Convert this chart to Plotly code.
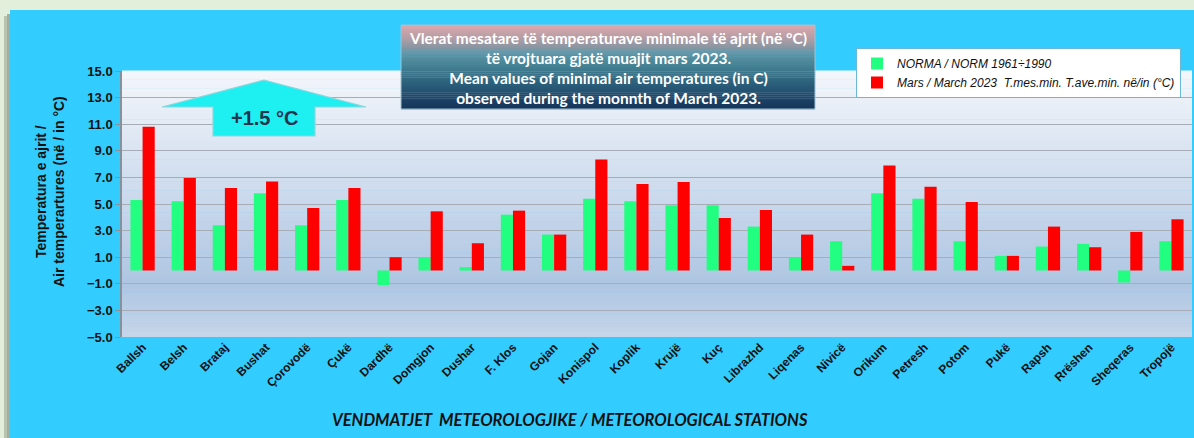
import plotly.graph_objects as go

stations = ["Ballsh", "Belsh", "Brataj", "Bushat", "Çorovodë", "Çukë", "Dardhë", "Domgjon",
            "Dushar", "F. Klos", "Gojan", "Konispol", "Koplik", "Krujë", "Kuç", "Librazhd",
            "Liqenas", "Nivicë", "Orikum", "Petresh", "Potom", "Pukë", "Rapsh", "Rrëshen",
            "Sheqeras", "Tropojë"]
norm_1961_1990 = [5.3, 5.2, 3.4, 5.8, 3.4, 5.3, -1.1, 1.0, 0.25, 4.2, 2.7, 5.4, 5.2, 4.9,
                  4.9, 3.3, 1.0, 2.2, 5.8, 5.4, 2.2, 1.1, 1.8, 2.0, -0.9, 2.2]
march_2023 = [10.8, 6.95, 6.2, 6.7, 4.7, 6.2, 1.0, 4.45, 2.05, 4.5, 2.7, 8.35, 6.5, 6.65,
              3.95, 4.55, 2.7, 0.35, 7.9, 6.3, 5.15, 1.1, 3.3, 1.75, 2.9, 3.85]
y_ticks = [-5, -3, -1, 1, 3, 5, 7, 9, 11, 13, 15]
anomaly_label = "+1.5 °C"

W, H = 1194, 438
L, R, T, B = 122, 1192, 71, 337


def px(x):
    return (x - L) / (R - L)


def py(y):
    return (B - y) / (B - T)


def hexmix(c1, c2, t):
    a = [int(c1[i:i + 2], 16) for i in (1, 3, 5)]
    b = [int(c2[i:i + 2], 16) for i in (1, 3, 5)]
    return "#%02x%02x%02x" % tuple(round(a[k] + (b[k] - a[k]) * t) for k in range(3))


def grad(stops, t):
    for i in range(len(stops) - 1):
        t0, c0 = stops[i]
        t1, c1 = stops[i + 1]
        if t0 <= t <= t1:
            return hexmix(c0, c1, (t - t0) / (t1 - t0) if t1 > t0 else 0)
    return stops[-1][1]


fig = go.Figure()
fig.add_trace(go.Bar(x=stations, y=norm_1961_1990, name="<i>NORMA / NORM 1961÷1990</i>",
                     marker=dict(color="#22ff80", line=dict(width=0))))
fig.add_trace(go.Bar(x=stations, y=march_2023,
                     name="<i>Mars / March 2023  T.mes.min. T.ave.min. në/in (°C)</i>",
                     marker=dict(color="#ff0000", line=dict(width=0))))

shapes = []
# outer light-green frame and shadow
shapes.append(dict(type="rect", xref="paper", yref="paper", x0=px(0), x1=px(W), y0=py(0), y1=py(10),
                   fillcolor="#e2efda", line=dict(width=0), layer="below"))
shapes.append(dict(type="rect", xref="paper", yref="paper", x0=px(0), x1=px(10), y0=py(0), y1=py(H),
                   fillcolor="#e2efda", line=dict(width=0), layer="below"))
shapes.append(dict(type="rect", xref="paper", yref="paper", x0=px(4), x1=px(10), y0=py(16), y1=py(H),
                   fillcolor="#b9c4ae", line=dict(width=0), layer="below"))
shapes.append(dict(type="rect", xref="paper", yref="paper", x0=px(7), x1=px(10), y0=py(14), y1=py(H),
                   fillcolor="#9fb0a0", line=dict(width=0), layer="below"))

# plot-area gradient
pstops = [(0.0, "#f4f7fb"), (0.45, "#cddbed"), (0.8, "#aec5e2"), (1.0, "#c6d6ea")]
N = 60
for i in range(N):
    t = (i + 0.5) / N
    shapes.append(dict(type="rect", xref="paper", yref="paper", x0=0, x1=1,
                       y0=1 - (i + 1) / N, y1=1 - i / N + 0.002,
                       fillcolor=grad(pstops, t), line=dict(width=0), layer="below"))

# title box gradient
tx0, tx1, ty0, ty1 = 401, 815, 25, 109
tstops = [(0.0, "#dcaaae"), (0.15, "#b79ea6"), (0.42, "#4d8c9c"), (0.7, "#2a5f7a"), (1.0, "#15325a")]
M = 40
for i in range(M):
    t = (i + 0.5) / M
    y_a = ty0 + (ty1 - ty0) * i / M
    y_b = ty0 + (ty1 - ty0) * (i + 1) / M + 0.3
    shapes.append(dict(type="rect", xref="paper", yref="paper", x0=px(tx0), x1=px(tx1),
                       y0=py(y_b), y1=py(y_a), fillcolor=grad(tstops, t), line=dict(width=0),
                       layer="above"))
shapes.append(dict(type="rect", xref="paper", yref="paper", x0=px(tx0), x1=px(tx1),
                   y0=py(ty1), y1=py(ty0), fillcolor="rgba(0,0,0,0)",
                   line=dict(width=1, color="#9fc4d4"), layer="above"))

# arrow
pts = [(264, 80), (366, 107), (315, 107), (315, 136), (213, 136), (213, 107), (162, 107)]
path = "M " + " L ".join("%.5f,%.5f" % (px(x), py(y)) for x, y in pts) + " Z"
shapes.append(dict(type="path", xref="paper", yref="paper", path=path, fillcolor="#1ef0f2",
                   line=dict(width=1.2, color="#8fd6dc"), layer="above"))

annotations = [
    dict(xref="paper", yref="paper", x=px(608), y=py(68), xanchor="center", yanchor="middle",
         showarrow=False, align="center",
         text=("<b>Vlerat mesatare të temperaturave minimale të ajrit (në °C)<br>"
               "të vrojtuara gjatë muajit mars 2023.<br>"
               "Mean values of minimal air temperatures (in C)<br>"
               "observed during the monnth of March 2023.</b>"),
         font=dict(family="Lato, Open Sans, sans-serif", size=15.5, color="white")),
    dict(xref="paper", yref="paper", x=px(264), y=py(118), xanchor="center", yanchor="middle",
         showarrow=False, text="<b>" + anomaly_label + "</b>",
         font=dict(family="Liberation Sans, Arial, sans-serif", size=20, color="#22344e")),
    dict(xref="paper", yref="paper", x=px(570), y=py(420), xanchor="center", yanchor="middle",
         showarrow=False, text="<b><i>VENDMATJET  METEOROLOGJIKE / METEOROLOGICAL STATIONS</i></b>",
         font=dict(family="Lato, Open Sans, sans-serif", size=16.5, color="#111111")),
    dict(xref="paper", yref="paper", x=px(50), y=py(192), xanchor="center", yanchor="middle",
         showarrow=False, textangle=-90, align="center",
         text="<b>Temperatura e ajrit /<br>Air temperartures (në / in °C)</b>",
         font=dict(family="Liberation Sans Narrow, Arial Narrow, Liberation Sans, sans-serif",
                   size=14, color="#111111")),
]

fig.update_layout(
    width=W, height=H,
    margin=dict(l=L, r=W - R, t=T, b=H - B, pad=0),
    paper_bgcolor="#33ccff",
    plot_bgcolor="rgba(0,0,0,0)",
    barmode="group", bargap=0.41, bargroupgap=0,
    shapes=shapes, annotations=annotations,
    showlegend=True,
    legend=dict(x=px(856), y=py(48), xanchor="left", yanchor="top", bgcolor="white",
                bordercolor="#6ab8d6", borderwidth=1, itemwidth=30,
                font=dict(family="Liberation Sans, Arial, sans-serif", size=12, color="#111111"),
                tracegroupgap=0, itemsizing="constant"),
    xaxis=dict(tickangle=-45, showgrid=False, showline=False, ticks="",
               tickfont=dict(family="Liberation Sans, Arial, sans-serif", size=12, color="#111111",
                             weight="bold")),
    yaxis=dict(range=[-5, 15], tickvals=y_ticks, tickformat=".1f", showgrid=True,
               gridcolor="#a7adb6", gridwidth=1.3, zeroline=False, showline=True,
               linecolor="#8a8f98", linewidth=1.5, ticks="outside", ticklen=5,
               tickcolor="#8a8f98",
               tickfont=dict(family="Liberation Sans Narrow, Arial Narrow, Liberation Sans, sans-serif",
                             size=13, color="#111111", weight="bold")),
)

fig.write_html("out.html", config={"displayModeBar": False},
               post_script="document.body.style.margin='0';document.body.style.padding='0';")
